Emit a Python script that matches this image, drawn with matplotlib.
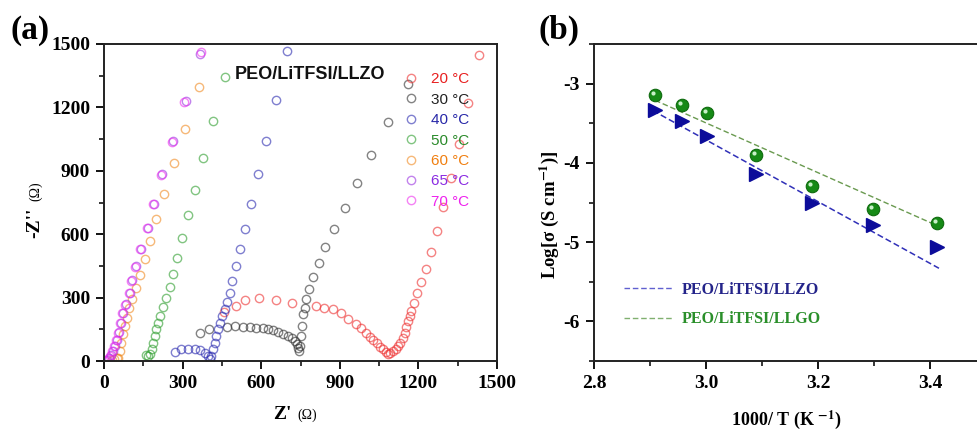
import matplotlib
matplotlib.use("Agg")
import matplotlib.pyplot as plt
from matplotlib.ticker import MultipleLocator
from matplotlib.transforms import offset_copy

plt.rcParams['font.family'] = ['Liberation Serif', 'DejaVu Serif']
plt.rcParams['mathtext.fontset'] = 'stix'

# ---------------- Panel (a) data: Nyquist plots ----------------
temps = ["20 °C", "30 °C", "40 °C", "50 °C", "60 °C", "65 °C", "70 °C"]
colors = ["#ee3030", "#303030", "#2a2ab0", "#2e9e2e", "#f08a20", "#9a30e0", "#ee30ee"]
label_colors = ["#e82020", "#222222", "#2828a8", "#2a8a2a", "#f07f10", "#8a2be2", "#ee22ee"]

z_re_20 = [458, 505, 540, 590, 658, 718, 808, 841, 874, 906, 933, 960, 982, 1001, 1017, 1027,
           1042, 1052, 1065, 1075, 1084, 1093, 1103, 1113, 1122, 1131, 1141, 1148, 1154, 1160,
           1167, 1173, 1182, 1194, 1210, 1229, 1248, 1271, 1295, 1325, 1356, 1390, 1432]
z_im_20 = [234, 260, 288, 300, 288, 276, 260, 252, 244, 225, 200, 174, 155, 134, 115, 99,
           84, 68, 55, 43, 35, 39, 47, 58, 71, 87, 110, 134, 163, 189,
           213, 236, 273, 320, 373, 437, 515, 613, 730, 867, 1029, 1220, 1447]

z_re_30 = [366, 401, 468, 499, 531, 557, 582, 608, 627, 646, 665, 684, 703, 716, 729, 737, 742,
           745, 748, 752, 755, 760, 767, 770, 783, 798, 820, 843, 879, 919, 965, 1020, 1085, 1159]
z_im_30 = [131, 150, 162, 165, 162, 161, 158, 154, 150, 145, 137, 129, 118, 107, 95, 79, 62,
           47, 71, 118, 165, 221, 252, 292, 342, 399, 463, 541, 626, 723, 840, 974, 1130, 1310]

z_re_40 = [270, 295, 321, 346, 365, 384, 397, 403, 410, 416, 423, 429, 435, 444, 452, 461, 470,
           480, 487, 503, 518, 540, 562, 587, 617, 656, 699]
z_im_40 = [44, 55, 58, 58, 52, 40, 24, 8, 24, 55, 87, 118, 150, 181, 213, 244, 279,
           323, 378, 449, 528, 626, 744, 883, 1042, 1237, 1466]

z_re_50 = [159, 168, 176, 182, 188, 194, 199, 206, 213, 225, 236, 251, 263, 280, 298, 321, 347,
           378, 416, 461]
z_im_50 = [28, 24, 35, 57, 87, 120, 151, 181, 213, 255, 300, 352, 413, 489, 580, 689, 810,
           961, 1135, 1344]

z_re_60 = [30, 40, 48, 53, 60, 66, 73, 79, 86, 95, 107, 124, 139, 155, 174, 200, 230, 266, 311, 363]
z_im_60 = [3, 8, 12, 16, 47, 87, 126, 165, 205, 249, 292, 344, 405, 481, 567, 670, 792, 935, 1100, 1297]

z_re_65 = [12, 18, 25, 33, 41, 49, 57, 65, 73, 83, 98, 108, 124, 143, 168, 191, 223, 263, 312, 365]
z_im_65 = [3, 12, 28, 48, 72, 100, 135, 180, 229, 268, 323, 383, 449, 531, 631, 745, 883, 1040, 1229, 1455]

z_re_70 = [8, 14, 21, 29, 37, 45, 53, 61, 69, 79, 94, 104, 120, 139, 164, 187, 219, 259, 307, 372]
z_im_70 = [2, 10, 25, 45, 70, 98, 133, 178, 226, 265, 320, 380, 446, 528, 628, 742, 880, 1037, 1226, 1460]

z_re = [z_re_20, z_re_30, z_re_40, z_re_50, z_re_60, z_re_65, z_re_70]
z_im = [z_im_20, z_im_30, z_im_40, z_im_50, z_im_60, z_im_65, z_im_70]

# ---------------- Panel (b) data: Arrhenius ----------------
inv_T = [2.909, 2.957, 3.002, 3.089, 3.190, 3.299, 3.413]
log_llgo = [-3.14, -3.27, -3.37, -3.90, -4.29, -4.58, -4.76]
log_llzo = [-3.33, -3.475, -3.66, -4.14, -4.50, -4.79, -5.06]
fit_x_llzo = [2.905, 3.416]
fit_y_llzo = [-3.34, -5.33]
fit_x_llgo = [2.909, 3.409]
fit_y_llgo = [-3.21, -4.78]

W, H = 977, 434
fig = plt.figure(figsize=(W / 100, H / 100), dpi=100)

def px_axes(l, t, r, b):
    return fig.add_axes([l / W, 1 - b / H, (r - l) / W, (b - t) / H])

axA = px_axes(104, 44, 497, 361)
axB = px_axes(594, 44, 986, 361)

# ---- Panel a ----
handles = []
for zr, zi, c, t in zip(z_re, z_im, colors, temps):
    h, = axA.plot(zr, zi, 'o', ms=6, mfc='none', mec=c, mew=1.0, alpha=0.6, label=t)
    handles.append(h)

axA.set_xlim(0, 1500)
axA.set_ylim(0, 1500)
axA.xaxis.set_major_locator(MultipleLocator(300))
axA.yaxis.set_major_locator(MultipleLocator(300))
axA.xaxis.set_minor_locator(MultipleLocator(150))
axA.yaxis.set_minor_locator(MultipleLocator(150))

leg = axA.legend(handles=handles, loc='upper left', bbox_to_anchor=(0.755, 0.93),
                 frameon=False, handlelength=0.6, handletextpad=1.0, labelspacing=0.42,
                 prop={'family': 'Liberation Sans', 'size': 11}, borderaxespad=0)
for txt, lc in zip(leg.get_texts(), label_colors):
    txt.set_color(lc)
for lh in leg.legend_handles:
    lh.set_alpha(0.6)

axA.text(0.332, 0.905, "PEO/LiTFSI/LLZO", transform=axA.transAxes, ha='left', va='center',
         fontsize=13, fontweight='bold', family='Liberation Sans', color='#111111')

axA.text(0.478, -0.17, "Z'", transform=axA.transAxes, ha='right', va='center',
         fontsize=14, fontweight='bold')
axA.text(0.493, -0.17, "(Ω)", transform=axA.transAxes, ha='left', va='center', fontsize=10)
axA.text(-0.175, 0.435, "-Z''", transform=axA.transAxes, ha='center', va='center',
         fontsize=14, fontweight='bold', rotation=90)
axA.text(-0.175, 0.535, "(Ω)", transform=axA.transAxes, ha='center', va='center',
         fontsize=10, rotation=90)

# ---- Panel b ----
axB.plot(fit_x_llzo, fit_y_llzo, ls=(0, (4, 2)), color='#3030b8', lw=1.1)
axB.plot(fit_x_llgo, fit_y_llgo, ls=(0, (4, 2)), color='#6a9a50', lw=1.0)
axB.plot(inv_T, log_llzo, '>', ms=10, color='#0c0c9a', mec='#0c0c9a')
axB.plot(inv_T, log_llgo, 'o', ms=9, color='#168a16', mec='#0e6a0e', mew=0.8)
hl = offset_copy(axB.transData, fig=fig, x=-1.5, y=1.5, units='points')
axB.plot(inv_T, log_llgo, 'o', ms=3, color='#c8f0c8', mec='none', transform=hl)

axB.set_xlim(2.8, 3.5)
axB.set_ylim(-6.5, -2.5)
axB.xaxis.set_minor_locator(MultipleLocator(0.1))
axB.yaxis.set_minor_locator(MultipleLocator(0.5))
axB.set_xticks([2.8, 3.0, 3.2, 3.4])
axB.set_xticklabels(["2.8", "3.0", "3.2", "3.4"])
axB.set_yticks([-3, -4, -5, -6])
axB.set_yticklabels(["-3", "-4", "-5", "-6"])

# legend for fits
lg_l1, = axB.plot([], [], ls=(0, (4, 2)), color='#6060d0', lw=1.0, label="PEO/LiTFSI/LLZO")
lg_l2, = axB.plot([], [], ls=(0, (4, 2)), color='#80b070', lw=1.0, label="PEO/LiTFSI/LLGO")
legB = axB.legend(handles=[lg_l1, lg_l2], loc='upper left', bbox_to_anchor=(0.06, 0.27),
                  frameon=False, handlelength=3.0, handletextpad=0.6, labelspacing=0.85,
                  prop={'size': 11.5, 'weight': 'bold'}, borderaxespad=0)
legB.get_texts()[0].set_color('#24248a')
legB.get_texts()[1].set_color('#2a8f2a')

axB.set_ylabel(r"Log[σ (S cm$^{\mathbf{-1}}$)]", fontsize=13.5, fontweight='bold')
axB.yaxis.set_label_coords(-0.085, 0.46)
axB.set_xlabel(r"1000/ T (K $^{\mathbf{-1}}$)", fontsize=13, fontweight='bold')
axB.xaxis.set_label_coords(0.49, -0.15)

for ax in (axA, axB):
    for s in ax.spines.values():
        s.set_linewidth(1.4)
        s.set_color('#222222')
    ax.tick_params(which='major', direction='out', length=6, width=1.3, labelsize=14,
                   top=False, right=False, pad=4)
    ax.tick_params(which='minor', direction='out', length=3.5, width=1.1,
                   top=False, right=False)
    for lab in ax.get_xticklabels() + ax.get_yticklabels():
        lab.set_fontweight('bold')

fig.text(10 / W, 1 - 30 / H, "(a)", fontsize=24, fontweight='bold', va='center', ha='left')
fig.text(538 / W, 1 - 30 / H, "(b)", fontsize=24, fontweight='bold', va='center', ha='left')

fig.savefig("out.png", dpi=100)
